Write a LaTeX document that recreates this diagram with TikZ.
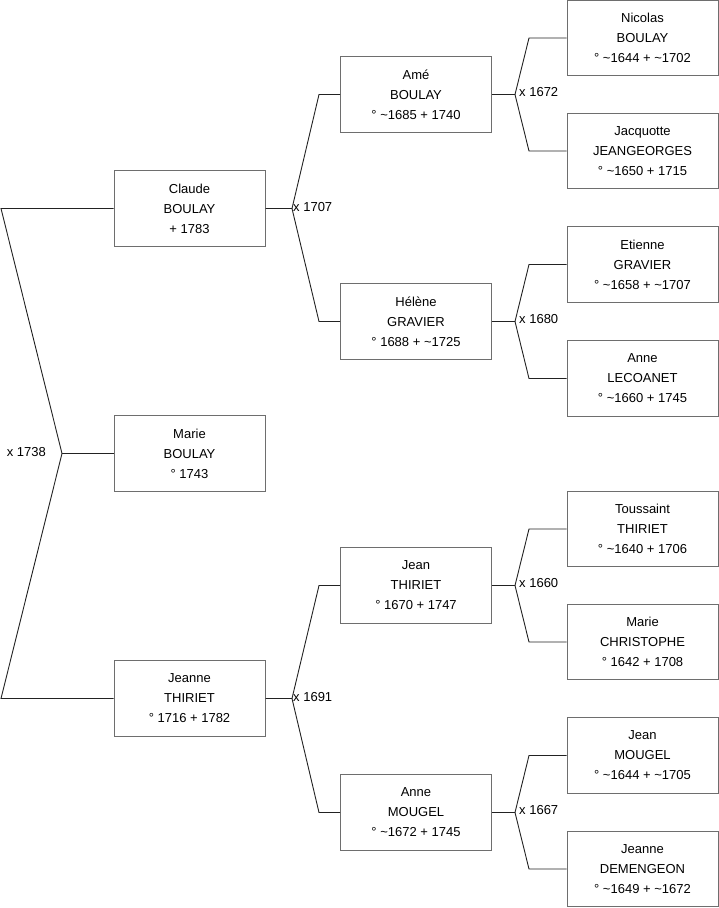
\documentclass[tikz,border=0pt]{standalone}
\usepackage{fontspec}
\setmainfont{Liberation Sans}
\definecolor{boxgray}{HTML}{6E6E6E}
\definecolor{linecol}{HTML}{222222}
\begin{document}
\begin{tikzpicture}[x=1pt,y=-1pt,
  person/.style={draw=boxgray, line width=1pt, minimum width=151pt, minimum height=75.5pt,
    inner sep=0pt, align=center, font=\fontsize{13}{20}\selectfont},
  conn/.style={draw=linecol, line width=0.9pt},
  marr/.style={inner sep=0pt, font=\fontsize{13}{16}\selectfont}]
\useasboundingbox (0,0) rectangle (719,908);
% generation 1
\node[person] (claude) at (189.5,208.5) {Claude\\BOULAY\\+ 1783};
\node[person] (marie) at (189.5,453.5) {Marie\\BOULAY\\° 1743};
\node[person] (jeanne) at (189.5,698.5) {Jeanne\\THIRIET\\° 1716 + 1782};
% generation 2
\node[person] (ame) at (416,94.5) {Amé\\BOULAY\\° \textasciitilde1685 + 1740};
\node[person] (helene) at (416,321.5) {Hélène\\GRAVIER\\° 1688 + \textasciitilde1725};
\node[person] (jean) at (416,585.5) {Jean\\THIRIET\\° 1670 + 1747};
\node[person] (anne) at (416,812.5) {Anne\\MOUGEL\\° \textasciitilde1672 + 1745};
% generation 3
\node[person] (nicolas) at (642.5,38) {Nicolas\\BOULAY\\° \textasciitilde1644 + \textasciitilde1702};
\node[person] (jacquotte) at (642.5,151) {Jacquotte\\JEANGEORGES\\° \textasciitilde1650 + 1715};
\node[person] (etienne) at (642.5,264.5) {Etienne\\GRAVIER\\° \textasciitilde1658 + \textasciitilde1707};
\node[person] (annel) at (642.5,378.5) {Anne\\LECOANET\\° \textasciitilde1660 + 1745};
\node[person] (toussaint) at (642.5,529) {Toussaint\\THIRIET\\° \textasciitilde1640 + 1706};
\node[person] (mariec) at (642.5,642) {Marie\\CHRISTOPHE\\° 1642 + 1708};
\node[person] (jeanm) at (642.5,755.5) {Jean\\MOUGEL\\° \textasciitilde1644 + \textasciitilde1705};
\node[person] (jeanned) at (642.5,869) {Jeanne\\DEMENGEON\\° \textasciitilde1649 + \textasciitilde1672};
% left family
\coordinate (l1) at (1,208.5);
\coordinate (j0) at (62,453.5);
\coordinate (l3) at (1,698.5);
\draw[conn] (claude.west) -- (l1) -- (j0) -- (l3) -- (jeanne.west);
\draw[conn] (j0) -- (marie.west);
\node[marr, anchor=east] (m0) at (46,452) {x 1738};
% Claude's parents
\coordinate (j1) at (292,208.5);
\coordinate (a1) at (319,94.5);
\coordinate (b1) at (319,321.5);
\draw[conn] (claude.east) -- (j1) -- (a1) -- (ame.west);
\draw[conn] (j1) -- (b1) -- (helene.west);
\node[marr, anchor=west] (m1) at (293,207) {x 1707};
% Jeanne's parents
\coordinate (j2) at (292,698.5);
\coordinate (a2) at (319,585.5);
\coordinate (b2) at (319,812.5);
\draw[conn] (jeanne.east) -- (j2) -- (a2) -- (jean.west);
\draw[conn] (j2) -- (b2) -- (anne.west);
\node[marr, anchor=west] (m2) at (293,697) {x 1691};
% Amé's parents
\coordinate (j3) at (515,94.5);
\coordinate (a3) at (529,38);
\coordinate (b3) at (529,151);
\draw[conn] (ame.east) -- (j3) -- (a3) -- (nicolas.west);
\draw[conn] (j3) -- (b3) -- (jacquotte.west);
\node[marr, anchor=west] (m3) at (519,92) {x 1672};
% Hélène's parents
\coordinate (j4) at (515,321.5);
\coordinate (a4) at (529,264.5);
\coordinate (b4) at (529,378.5);
\draw[conn] (helene.east) -- (j4) -- (a4) -- (etienne.west);
\draw[conn] (j4) -- (b4) -- (annel.west);
\node[marr, anchor=west] (m4) at (519,319) {x 1680};
% Jean's parents
\coordinate (j5) at (515,585.5);
\coordinate (a5) at (529,529);
\coordinate (b5) at (529,642);
\draw[conn] (jean.east) -- (j5) -- (a5) -- (toussaint.west);
\draw[conn] (j5) -- (b5) -- (mariec.west);
\node[marr, anchor=west] (m5) at (519,583) {x 1660};
% Anne's parents
\coordinate (j6) at (515,812.5);
\coordinate (a6) at (529,755.5);
\coordinate (b6) at (529,869);
\draw[conn] (anne.east) -- (j6) -- (a6) -- (jeanm.west);
\draw[conn] (j6) -- (b6) -- (jeanned.west);
\node[marr, anchor=west] (m6) at (519,810) {x 1667};
\end{tikzpicture}
\end{document}
